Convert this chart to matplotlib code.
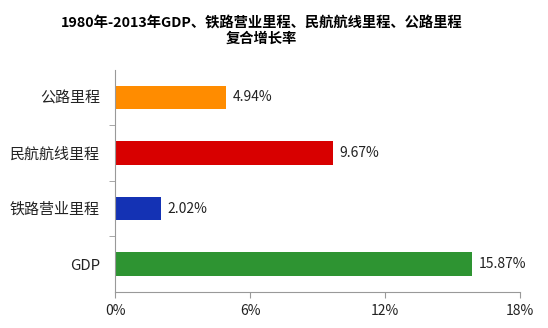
import matplotlib.pyplot as plt
import numpy as np

plt.rcParams['font.family'] = ['Noto Sans CJK SC', 'DejaVu Sans']

categories = ['GDP', '铁路营业里程', '民航航线里程', '公路里程']
rates = [15.87, 2.02, 9.67, 4.94]
colors = ['#2e9432', '#1432b4', '#d80000', '#ff8c00']
xticks = [0, 6, 12, 18]
xtick_labels = ['0%', '6%', '12%', '18%']

fig = plt.figure(figsize=(5.48, 3.28), dpi=100)
ax = fig.add_axes([0.21, 0.11, 0.739, 0.678])

y = np.arange(len(categories))
ax.barh(y, rates, height=0.42, color=colors)
for yi, v in zip(y, rates):
    ax.text(v + 0.3, yi, f'{v:.2f}%', va='center', ha='left', fontsize=10, color='#222222')

ax.set_xlim(0, 18)
ax.set_ylim(-0.5, len(categories) - 0.5)
ax.set_xticks(xticks)
ax.set_xticklabels(xtick_labels, fontsize=10, color='#222222')
ax.set_yticks(y)
ax.set_yticklabels(categories, fontsize=10.8, color='#222222')
ax.tick_params(axis='y', length=0, pad=11)
ax.set_yticks(np.arange(len(categories) - 1) + 0.5, minor=True)
ax.tick_params(axis='y', which='minor', length=4, color='#999999')
ax.tick_params(axis='x', length=4, color='#999999', pad=5)

for side in ['top', 'right']:
    ax.spines[side].set_visible(False)
for side in ['left', 'bottom']:
    ax.spines[side].set_color('#999999')

fig.text(0.477, 0.95, '1980年-2013年GDP、铁路营业里程、民航航线里程、公路里程\n复合增长率',
         ha='center', va='top', fontsize=10.3, fontweight='bold', linespacing=1.15)

fig.savefig('out.png', dpi=100)
